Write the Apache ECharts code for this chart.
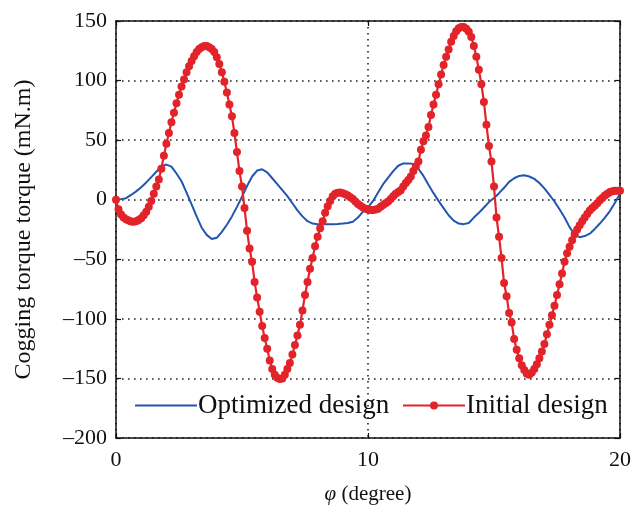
<!DOCTYPE html>
<html>
<head>
<meta charset="utf-8">
<script src="https://cdn.jsdelivr.net/npm/echarts@6/dist/echarts.min.js"></script>
<style>
  html, body { margin: 0; padding: 0; background: #fff; }
  #chart { width: 635px; height: 510px; }
</style>
</head>
<body>
<div id="chart"></div>
<script>
// angle step of the sampled curves (degree)
const initialStep = 0.1;
const optimizedStep = 0.2;

// Initial design, one value per 0.1 degree from 0 to 20
const initialTorque = [
  0, -8, -12.5, -15, -16.5, -17.5, -18.3, -18.5, -18, -17,
  -15.5, -13, -10, -6, -1, 5, 11, 17, 26, 37,
  47, 56, 65, 73, 81, 88, 95, 101, 107, 112,
  116.5, 120.5, 124, 126.5, 128, 129, 129, 128, 126.5, 124,
  119.5, 114, 107, 99, 90, 80, 70, 56, 40, 24,
  11, -7, -26, -41, -52, -69, -82, -94, -106, -116,
  -125, -135, -142, -147, -149.5, -150.5, -150, -147, -142, -137,
  -130, -122, -114, -105, -93, -80, -69, -58, -49, -39,
  -31, -24, -18, -11, -5.5, -1, 3, 5, 5.8, 6,
  5.5, 4.5, 3.5, 2, 0.5, -1.5, -3.5, -5, -6.5, -7.5,
  -8.3, -8.6, -8.6, -8.3, -7.5, -6, -4.5, -3, -1.5, 0.5,
  3, 5, 6.5, 8, 11, 14, 16.5, 19.5, 24, 28,
  32, 42, 49, 54, 61, 71, 80, 88, 97, 105,
  113, 120, 126, 132.5, 137.5, 141.5, 144, 145, 145, 143.5,
  141, 136.5, 129, 120, 109, 97, 82, 63, 45, 32,
  11, -15, -31, -49, -70, -81, -95, -103, -117, -126,
  -133, -139, -143, -146, -147, -145, -142, -138, -133, -127.5,
  -121, -113, -105, -97, -89, -80, -71, -62, -52, -45,
  -39.5, -34, -29, -25, -21.5, -18, -15, -12, -9, -7,
  -5, -3, -0.5, 1.5, 3.5, 5, 6.5, 7, 7.5, 7.5,
  7.5
];

// Optimized design, one value per 0.2 degree from 0 to 20
const optimizedTorque = [
  0, 0.5, 1.3, 4, 7, 10.5, 14.5, 19, 23.5, 28,
  29.5, 27.8, 22, 15.5, 6, -4, -14, -23.5, -29.5, -33,
  -32, -27, -21, -14, -6, 2.5, 11.5, 19.5, 24.5, 25.5,
  23, 18, 13, 8, 3, -3, -9, -14, -18, -20,
  -20.5, -20.5, -20.5, -20.5, -20.3, -20, -19.5, -18.5, -15, -10,
  -6.5, -1, 6, 13, 18.5, 24, 28.5, 30.5, 30.5, 30,
  26, 20, 12.5, 5.5, -1, -7, -13, -17.5, -20, -20.5,
  -19.5, -15, -11, -6.5, -2, 1.5, 5.5, 10, 15, 18,
  20, 20.5, 19.5, 17.5, 14, 9.5, 4, -1.5, -8, -15,
  -23, -29, -31.5, -30.5, -28.5, -24.5, -20, -15, -9.5, -2.5,
  5
];

const xTicks = [0, 10, 20];
const yTicks = [-200, -150, -100, -50, 0, 50, 100, 150];

const chart = echarts.init(document.getElementById('chart'));

const toPairs = (vals, step) => vals.map((v, i) => [+(i * step).toFixed(2), v]);
const fmtNum = (v) => String(v).replace('-', '\u2013');

const serif = '"Liberation Serif", "DejaVu Serif", serif';
const gridLine = { show: true, lineStyle: { color: '#222', type: [1.6, 4.4], width: 1.6 } };
const frameLine = { show: true, onZero: false, lineStyle: { color: '#111', width: 1.5 } };
const innerTick = { show: true, inside: true, length: 5, lineStyle: { color: '#111', width: 1.2 } };

const option = {
  backgroundColor: '#fff',
  animation: false,
  textStyle: { fontFamily: serif, color: '#111' },
  grid: { left: 116, right: 15, top: 21, bottom: 67 },
  legend: [
    {
      left: 130,
      top: 387,
      data: [{ name: 'Optimized design', icon: 'rect' }],
      itemWidth: 62,
      itemHeight: 2,
      textStyle: { fontFamily: serif, fontSize: 27, color: '#111', padding: [0, 0, 0, -4] },
    },
    {
      left: 397,
      top: 387,
      data: ['Initial design'],
      itemWidth: 62,
      itemHeight: 10,
      textStyle: { fontFamily: serif, fontSize: 27, color: '#111', padding: [0, 0, 0, -4] },
    },
  ],
  xAxis: [
    {
      type: 'value',
      min: xTicks[0],
      max: xTicks[xTicks.length - 1],
      interval: 10,
      name: '{i|\u03c6} (degree)',
      nameLocation: 'middle',
      nameGap: 46,
      nameTextStyle: {
        fontSize: 21,
        color: '#111',
        fontFamily: serif,
        rich: { i: { fontStyle: 'italic', fontSize: 21, fontFamily: serif, color: '#111' } },
      },
      axisLine: frameLine,
      axisTick: innerTick,
      axisLabel: { fontSize: 22, color: '#111', margin: 11, fontFamily: serif },
      splitLine: gridLine,
    },
    {
      type: 'value',
      position: 'top',
      min: 0,
      max: 20,
      interval: 10,
      axisLine: frameLine,
      axisTick: innerTick,
      axisLabel: { show: false },
      splitLine: { show: false },
    },
  ],
  yAxis: [
    {
      type: 'value',
      min: yTicks[0],
      max: yTicks[yTicks.length - 1],
      interval: 50,
      name: 'Cogging torque torque (mN.m)',
      nameLocation: 'middle',
      nameGap: 80,
      nameTextStyle: { fontSize: 24, color: '#111', fontFamily: serif },
      axisLine: frameLine,
      axisTick: innerTick,
      axisLabel: { fontSize: 22, color: '#111', margin: 9, fontFamily: serif, formatter: fmtNum },
      splitLine: gridLine,
    },
    {
      type: 'value',
      position: 'right',
      min: -200,
      max: 150,
      interval: 50,
      axisLine: frameLine,
      axisTick: innerTick,
      axisLabel: { show: false },
      splitLine: { show: false },
    },
  ],
  series: [
    {
      name: 'Optimized design',
      type: 'line',
      data: toPairs(optimizedTorque, optimizedStep),
      smooth: false,
      showSymbol: false,
      symbol: 'none',
      lineStyle: { color: '#2255b0', width: 2 },
      itemStyle: { color: '#2255b0' },
      z: 2,
    },
    {
      name: 'Initial design',
      type: 'line',
      data: toPairs(initialTorque, initialStep),
      symbol: 'circle',
      symbolSize: 8,
      showSymbol: true,
      clip: false,
      lineStyle: { color: '#e3232a', width: 2.2 },
      itemStyle: { color: '#e3232a' },
      z: 3,
    },
  ],
};

chart.setOption(option);
</script>
</body>
</html>
